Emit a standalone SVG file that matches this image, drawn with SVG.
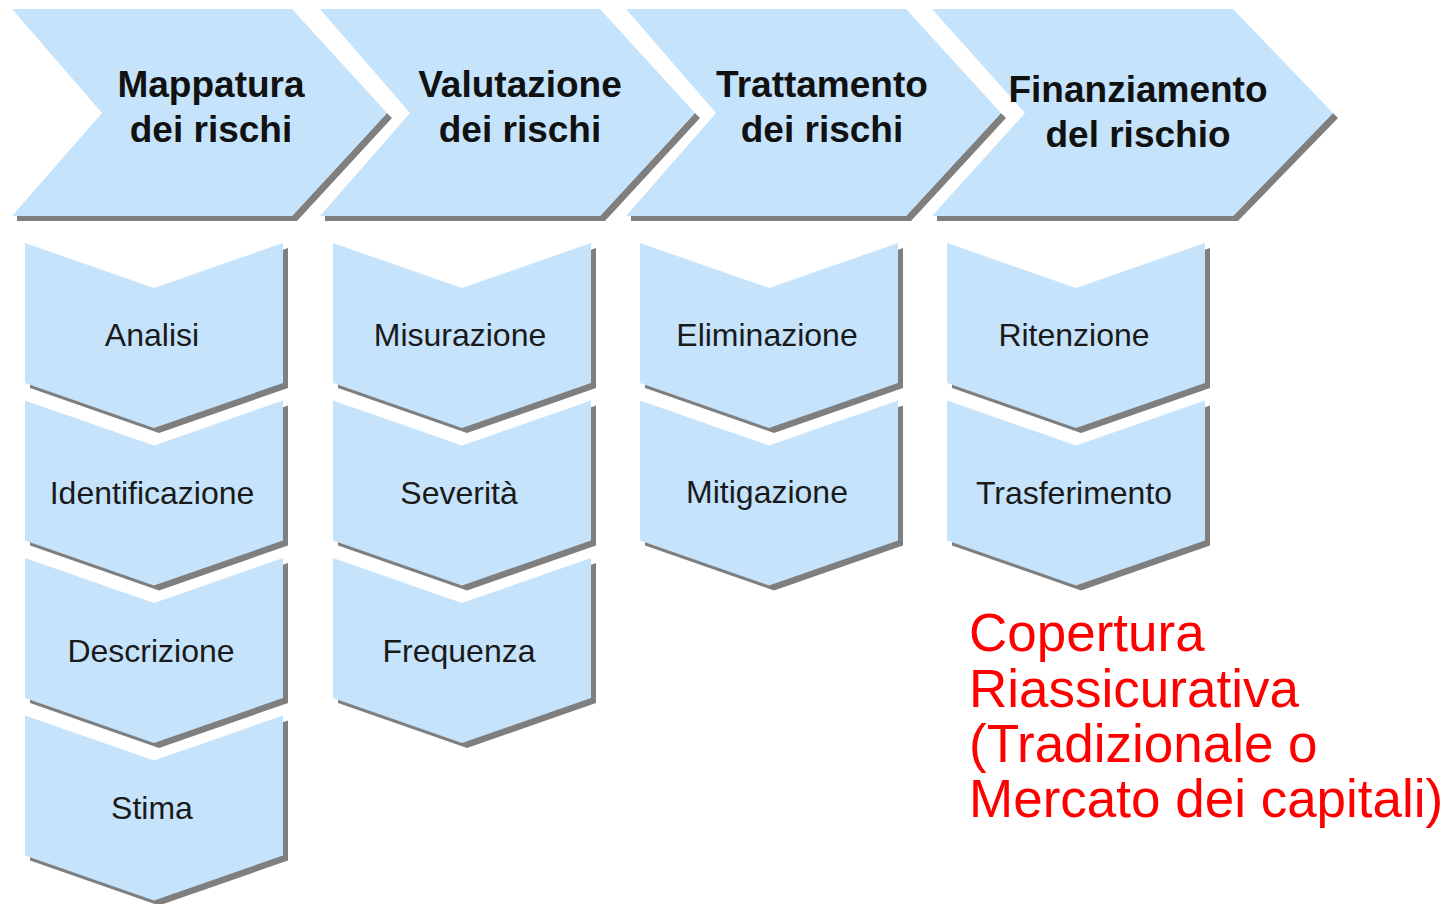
<svg xmlns="http://www.w3.org/2000/svg" xmlns:xlink="http://www.w3.org/1999/xlink" width="1448" height="904" viewBox="0 0 1448 904">
<style>
.fill{fill:#C5E3FB}
.shadow{fill:#7F7F7F}
.title{font-family:"Liberation Sans",Arial,sans-serif;font-weight:bold;font-size:37px;fill:#111111;text-anchor:middle}
.sub{font-family:"Liberation Sans",Arial,sans-serif;font-size:32px;fill:#1A1A1A;text-anchor:middle}
.note{font-family:"Liberation Sans",Arial,sans-serif;font-size:53px;fill:#FF0000}
</style>
<defs>
<path id="chev" d="M0,0 H280 L375,104 L280,207 H0 L90,104 Z"/>
<path id="chevSh" d="M375,104 L380,109 L285,212 L5,212 L5,207 L280,207 Z"/>
<path id="chevW" d="M0,0 H301 L401,104 L301,207 H0 L93,104 Z"/>
<path id="chevWSh" d="M401,104 L406,109 L306,212 L5,212 L5,207 L301,207 Z"/>
<path id="down" d="M0,0 L129,45 L258,0 V140 L129,185 L0,140 Z"/>
</defs>

<g id="step1">
<use xlink:href="#chevSh" class="shadow" x="12" y="9"/>
<use xlink:href="#chev" class="fill" x="12" y="9"/>
<text class="title" x="211" y="97">Mappatura</text>
<text class="title" x="211" y="142">dei rischi</text>
</g>
<g id="step2">
<use xlink:href="#chevSh" class="shadow" x="320" y="9"/>
<use xlink:href="#chev" class="fill" x="320" y="9"/>
<text class="title" x="520" y="97">Valutazione</text>
<text class="title" x="520" y="142">dei rischi</text>
</g>
<g id="step3">
<use xlink:href="#chevSh" class="shadow" x="626" y="9"/>
<use xlink:href="#chev" class="fill" x="626" y="9"/>
<text class="title" x="822" y="97">Trattamento</text>
<text class="title" x="822" y="142">dei rischi</text>
</g>
<g id="step4">
<use xlink:href="#chevWSh" class="shadow" x="932" y="9"/>
<use xlink:href="#chevW" class="fill" x="932" y="9"/>
<text class="title" x="1138" y="102">Finanziamento</text>
<text class="title" x="1138" y="147">del rischio</text>
</g>

<!-- column 1 -->
<g id="analisi">
<use xlink:href="#down" class="shadow" x="30" y="248"/>
<use xlink:href="#down" class="fill" x="25" y="243"/>
<text class="sub" x="152" y="346">Analisi</text>
</g>
<g id="identificazione">
<use xlink:href="#down" class="shadow" x="30" y="405.5"/>
<use xlink:href="#down" class="fill" x="25" y="400.5"/>
<text class="sub" x="152" y="504">Identificazione</text>
</g>
<g id="descrizione">
<use xlink:href="#down" class="shadow" x="30" y="563"/>
<use xlink:href="#down" class="fill" x="25" y="558"/>
<text class="sub" x="151" y="662">Descrizione</text>
</g>
<g id="stima">
<use xlink:href="#down" class="shadow" x="30" y="720.5"/>
<use xlink:href="#down" class="fill" x="25" y="715.5"/>
<text class="sub" x="152" y="819">Stima</text>
</g>

<!-- column 2 -->
<g id="misurazione">
<use xlink:href="#down" class="shadow" x="338" y="248"/>
<use xlink:href="#down" class="fill" x="333" y="243"/>
<text class="sub" x="460" y="346">Misurazione</text>
</g>
<g id="severita">
<use xlink:href="#down" class="shadow" x="338" y="405.5"/>
<use xlink:href="#down" class="fill" x="333" y="400.5"/>
<text class="sub" x="459" y="504">Severità</text>
</g>
<g id="frequenza">
<use xlink:href="#down" class="shadow" x="338" y="563"/>
<use xlink:href="#down" class="fill" x="333" y="558"/>
<text class="sub" x="459" y="662">Frequenza</text>
</g>

<!-- column 3 -->
<g id="eliminazione">
<use xlink:href="#down" class="shadow" x="645" y="248"/>
<use xlink:href="#down" class="fill" x="640" y="243"/>
<text class="sub" x="767" y="346">Eliminazione</text>
</g>
<g id="mitigazione">
<use xlink:href="#down" class="shadow" x="645" y="405.5"/>
<use xlink:href="#down" class="fill" x="640" y="400.5"/>
<text class="sub" x="767" y="503">Mitigazione</text>
</g>

<!-- column 4 -->
<g id="ritenzione">
<use xlink:href="#down" class="shadow" x="952" y="248"/>
<use xlink:href="#down" class="fill" x="947" y="243"/>
<text class="sub" x="1074" y="346">Ritenzione</text>
</g>
<g id="trasferimento">
<use xlink:href="#down" class="shadow" x="952" y="405.5"/>
<use xlink:href="#down" class="fill" x="947" y="400.5"/>
<text class="sub" x="1074" y="504">Trasferimento</text>
</g>

<g id="connectors"></g>

<g id="note">
<text class="note" x="969" y="651">Copertura</text>
<text class="note" x="969" y="707">Riassicurativa</text>
<text class="note" x="969" y="762">(Tradizionale o</text>
<text class="note" x="969" y="817">Mercato dei capitali)</text>
</g>
</svg>
